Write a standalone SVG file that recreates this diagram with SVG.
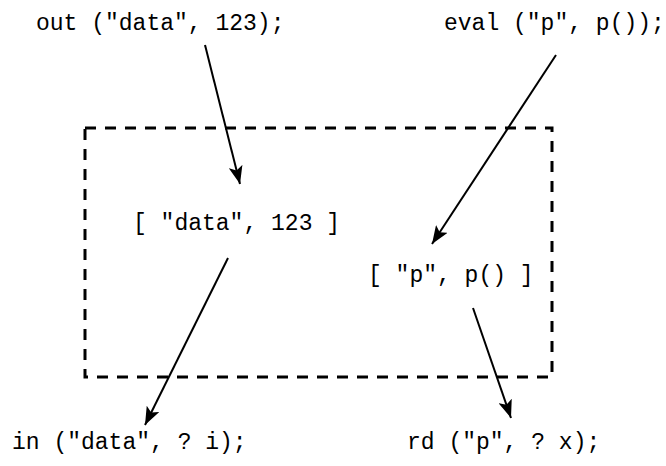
<svg xmlns="http://www.w3.org/2000/svg" width="666" height="466" viewBox="0 0 666 466">
<style>
text{font-family:"Liberation Mono","DejaVu Sans Mono",monospace;font-size:23px;fill:#000}
.c{stroke:#000;stroke-width:2;fill:none;marker-end:url(#ah)}
</style>
<defs>
<marker id="ah" markerUnits="userSpaceOnUse" markerWidth="20" markerHeight="14" refX="18" refY="7" orient="auto">
<path d="M0,0 L18,7 L0,14 L4,7 Z" fill="#000"/>
</marker>
</defs>
<rect width="666" height="466" fill="#fff"/>
<g id="space"><rect x="85" y="128" width="467" height="249" fill="none" stroke="#000" stroke-width="3" stroke-dasharray="11 9"/></g>
<g id="out"><text x="36" y="30">out ("data", 123);</text></g>
<g id="eval"><text x="444" y="30">eval ("p", p());</text></g>
<g id="t1"><text x="133" y="230">[ "data", 123 ]</text></g>
<g id="t2"><text x="368" y="282">[ "p", p() ]</text></g>
<g id="in"><text x="12" y="449">in ("data", ? i);</text></g>
<g id="rd"><text x="407" y="449">rd ("p", ? x);</text></g>
<g id="connectors">
<line class="c" x1="205" y1="45" x2="240" y2="184"/>
<line class="c" x1="556" y1="55" x2="432" y2="244"/>
<line class="c" x1="228" y1="258" x2="145" y2="425"/>
<line class="c" x1="473" y1="308" x2="511" y2="418"/>
</g>
</svg>
